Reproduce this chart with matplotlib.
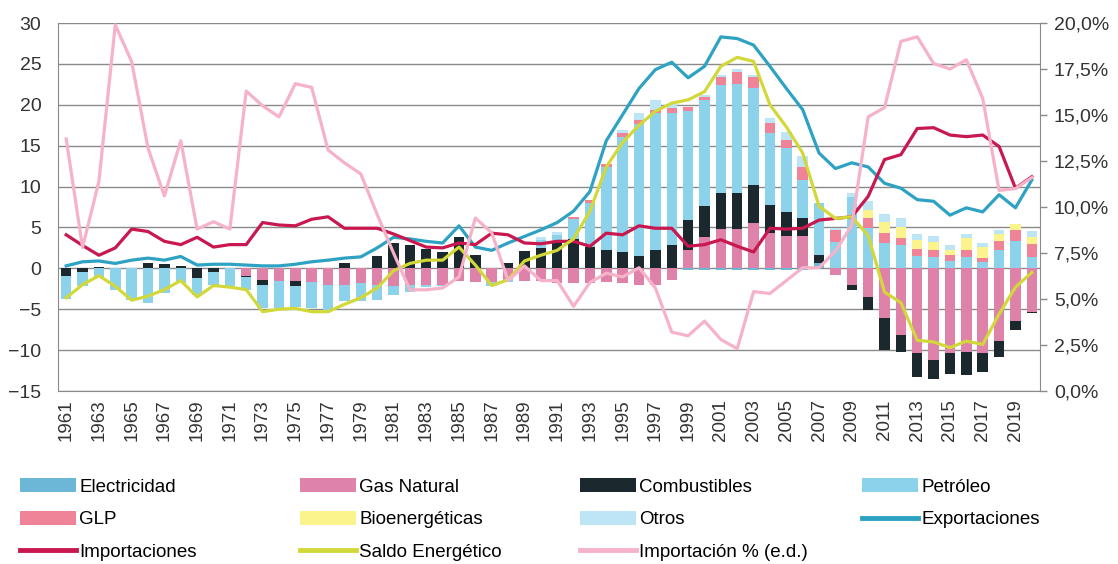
import numpy as np
import matplotlib
matplotlib.use('Agg')
import matplotlib.pyplot as plt
from matplotlib.patches import Patch
from matplotlib.lines import Line2D
from matplotlib.ticker import FuncFormatter

plt.rcParams['font.family'] = ['Liberation Sans', 'DejaVu Sans']

years = list(range(1961, 2021))

# componentes del saldo (barras apiladas)
electricidad = [0]*38 + [-0.25]*8 + [0.6] + [0]*13
gas_natural = [0]*11 + [-0.9, -1.4, -1.5, -1.5, -1.7, -2.0, -2.0, -1.8, -2.0,
               -2.2, -2.0, -2.0, -2.0, -1.5, -1.7, -1.7, -1.3, -1.6, -1.5,
               -1.8, -1.8, -1.8, -1.7, -1.8, -2.0, -2.0, -1.4, 2.25, 3.8,
               4.8, 4.8, 5.5, 4.3, 4.0, 3.9, 0.0, -0.8, -2.0, -3.5,
               -6.1, -8.2, -10.4, -11.2, -10.4, -10.2, -10.4, -8.9, -6.5, -5.3]
combustibles = [-0.9, -0.5, 0.2, 0.0, 0.0, 0.7, 0.5, 0.3, -1.2, -0.4,
                0.0, -0.2, -0.6, -0.1, -0.6, 0.0, 0.0, 0.6, 0.0, 1.5,
                3.1, 2.9, 2.4, 2.0, 3.8, 1.6, 0.0, 0.6, 2.1, 2.5,
                3.2, 3.6, 2.6, 2.2, 2.0, 1.5, 2.25, 2.85, 3.65, 3.8,
                4.4, 4.4, 4.7, 3.5, 2.9, 2.2, 1.0, 0.0, -0.6, -1.6,
                -3.9, -2.0, -2.9, -2.3, -2.5, -2.9, -2.3, -2.0, -1.0, -0.2]
petroleo = [-2.9, -1.7, -1.0, -2.6, -3.9, -4.3, -3.0, -1.8, -2.0, -1.6,
            -2.2, -1.5, -2.9, -3.2, -2.6, -3.2, -3.1, -2.0, -2.2, -1.9,
            -1.0, -0.9, -0.3, -0.2, 0.0, 0.0, -0.5, -0.4, 0.0, 1.0,
            0.9, 2.4, 5.4, 10.2, 14.1, 16.2, 16.75, 16.1, 13.3, 13.0,
            13.2, 13.4, 11.8, 8.7, 7.8, 4.7, 6.4, 3.2, 8.7, 4.9,
            3.1, 2.9, 1.5, 1.4, 0.9, 1.4, 0.8, 2.3, 3.4, 1.4]
glp = [0]*31 + [0.3, 0.4, 0.4, 0.4, 0.4, 0.4, 0.6, 0.5, 0.3,
                1.0, 1.4, 1.4, 1.3, 1.0, 1.6, 0.0, 1.5, 0.0, 1.2,
                1.2, 0.8, 0.9, 0.8, 0.7, 0.9, 0.5, 1.1, 1.3, 1.6]
bioenergeticas = [0]*49 + [1.0, 1.4, 1.4, 1.1, 1.0, 0.7, 1.35, 1.3, 0.8, 0.7, 0.8]
otros = [0]*29 + [0.3, 0.4, 0.0, 0.0, 0.0, 0.4, 0.9, 1.2, 0.6, 0.0, 0.3,
                  0.3, 0.4, 0.2, 0.6, 1.0, 1.3, 0.0, 0.2, 0.5, 1.1,
                  1.0, 1.1, 0.65, 0.7, 0.5, 0.6, 0.5, 0.5, 0.0, 0.8]

exportaciones = [0.3, 0.8, 0.9, 0.6, 1.0, 1.25, 1.0, 1.45, 0.4, 0.5,
                 0.5, 0.4, 0.3, 0.3, 0.5, 0.8, 1.0, 1.25, 1.4, 2.5,
                 3.8, 3.6, 3.3, 3.1, 5.2, 2.6, 2.2, 3.1, 3.9, 4.7,
                 5.6, 7.0, 9.4, 15.6, 18.8, 22.0, 24.3, 25.2, 23.3, 24.7,
                 28.3, 28.1, 27.3, 24.7, 22.0, 19.4, 14.1, 12.2, 12.9, 12.4,
                 10.4, 9.8, 8.4, 8.2, 6.5, 7.4, 6.9, 9.0, 7.4, 10.8]
importaciones = [4.1, 2.8, 1.6, 2.5, 4.8, 4.5, 3.3, 2.9, 3.8, 2.6,
                 2.9, 2.9, 5.6, 5.3, 5.2, 6.0, 6.3, 4.9, 4.9, 4.9,
                 4.2, 3.4, 2.6, 2.5, 3.1, 2.9, 4.3, 4.1, 3.1, 3.0,
                 3.3, 3.3, 2.7, 4.3, 4.1, 5.2, 4.9, 4.9, 2.7, 2.9,
                 3.5, 2.7, 2.0, 4.9, 4.8, 4.9, 5.9, 6.1, 6.3, 8.8,
                 13.3, 13.9, 17.1, 17.2, 16.3, 16.1, 16.3, 14.9, 9.8, 11.2]
saldo = [-3.6, -2.0, -0.9, -2.2, -3.9, -3.4, -2.6, -1.5, -3.5, -2.1,
         -2.3, -2.6, -5.3, -5.0, -4.9, -5.3, -5.3, -4.4, -3.6, -2.4,
         -0.3, 0.6, 1.0, 1.0, 2.6, 0.4, -2.1, -1.4, 0.9, 1.6,
         2.2, 3.6, 7.0, 12.4, 15.4, 17.5, 19.2, 20.2, 20.6, 21.6,
         24.7, 25.8, 25.3, 20.0, 17.3, 14.1, 7.6, 6.1, 6.3, 4.0,
         -2.9, -4.2, -8.8, -9.0, -9.7, -8.9, -9.3, -5.6, -2.3, -0.5]
importacion_pct = [13.7, 7.8, 11.4, 19.9, 17.9, 13.2, 10.6, 13.6, 8.8, 9.2,
                   8.8, 16.3, 15.5, 14.9, 16.7, 16.5, 13.1, 12.4, 11.8, 9.6,
                   7.5, 5.5, 5.5, 5.6, 6.2, 9.4, 8.6, 6.0, 6.8, 6.0,
                   6.0, 4.6, 5.9, 6.4, 6.2, 6.7, 5.6, 3.2, 3.0, 3.8,
                   2.8, 2.3, 5.4, 5.3, 6.0, 6.7, 6.7, 7.6, 9.0, 14.9,
                   15.4, 19.0, 19.25, 17.8, 17.5, 18.0, 15.9, 10.9, 11.0, 11.6]

bar_series = [
    ('Electricidad', electricidad, '#6cb7d8'),
    ('Gas Natural', gas_natural, '#df82a9'),
    ('Combustibles', combustibles, '#1b282d'),
    ('Petróleo', petroleo, '#8cd2ea'),
    ('GLP', glp, '#ef8499'),
    ('Bioenergéticas', bioenergeticas, '#fbf48c'),
    ('Otros', otros, '#bde5f6'),
]
c_exp = '#2ea2c2'
c_imp = '#c8184f'
c_sal = '#d3d83a'
c_pct = '#f6b2c8'

fig = plt.figure(figsize=(11.18, 5.64), dpi=100)
ax = fig.add_axes([58/1118, 1-391/564, (1040-58)/1118, (391-23)/564])

x = np.arange(len(years))
pos_base = np.zeros(len(years))
neg_base = np.zeros(len(years))
for name, vals, col in bar_series:
    v = np.array(vals, dtype=float)
    bottom = np.where(v >= 0, pos_base, neg_base)
    ax.bar(x, v, bottom=bottom, width=0.64, color=col, zorder=2, linewidth=0)
    pos_base += np.clip(v, 0, None)
    neg_base += np.clip(v, None, 0)

ax.plot(x, exportaciones, color=c_exp, lw=2.3, zorder=4)
ax.plot(x, importaciones, color=c_imp, lw=2.3, zorder=4)
ax.plot(x, saldo, color=c_sal, lw=2.3, zorder=4)

ax.set_xlim(-0.5, len(years) - 0.5)
ax.set_ylim(-15, 30)
ax.set_yticks(range(-15, 31, 5))
ax.yaxis.grid(True, color='#8a8a8a', lw=1.0, zorder=0)
ax.set_axisbelow(True)
ax.tick_params(axis='y', length=0, labelsize=14, pad=12, colors='#333333')
ax.set_xticks(x[::2])
ax.set_xticklabels([str(y) for y in years[::2]], rotation=90, fontsize=13.5)
ax.tick_params(axis='x', length=0, pad=6, colors='#333333')
for s in ['top', 'right']:
    ax.spines[s].set_visible(False)
for s in ['left', 'bottom']:
    ax.spines[s].set_color('#8a8a8a')

ax2 = ax.twinx()
ax2.plot(x, importacion_pct, color=c_pct, lw=2.3, zorder=3)
ax2.set_ylim(0, 20)
ax2.set_yticks(np.arange(0, 20.1, 2.5))
ax2.yaxis.set_major_formatter(FuncFormatter(lambda v, p: f'{v:.1f}%'.replace('.', ',')))
ax2.tick_params(axis='y', length=5, width=1, color='#8a8a8a', labelsize=14, pad=5,
                labelcolor='#333333')
for s in ['top', 'left', 'bottom']:
    ax2.spines[s].set_visible(False)
ax2.spines['right'].set_color('#8a8a8a')

# leyenda: cuatro columnas fijas
lw_leg = 3.5
def patch(i):
    return Patch(facecolor=bar_series[i][2], label=bar_series[i][0])

columns = [
    [patch(0), patch(4), Line2D([], [], color=c_imp, lw=lw_leg, label='Importaciones')],
    [patch(1), patch(5), Line2D([], [], color=c_sal, lw=lw_leg, label='Saldo Energético')],
    [patch(2), patch(6), Line2D([], [], color=c_pct, lw=lw_leg, label='Importación % (e.d.)')],
    [patch(3), Line2D([], [], color=c_exp, lw=lw_leg, label='Exportaciones')],
]
col_x = [20, 300, 580, 862]
for hs, cx in zip(columns, col_x):
    fig.legend(handles=hs, loc='upper left', bbox_to_anchor=(cx/1118, 1-478/564),
               frameon=False, fontsize=13.5, handlelength=3.0, handleheight=0.8,
               handletextpad=0.15, labelspacing=0.8, borderpad=0, borderaxespad=0)

fig.savefig('out.png', dpi=100)
